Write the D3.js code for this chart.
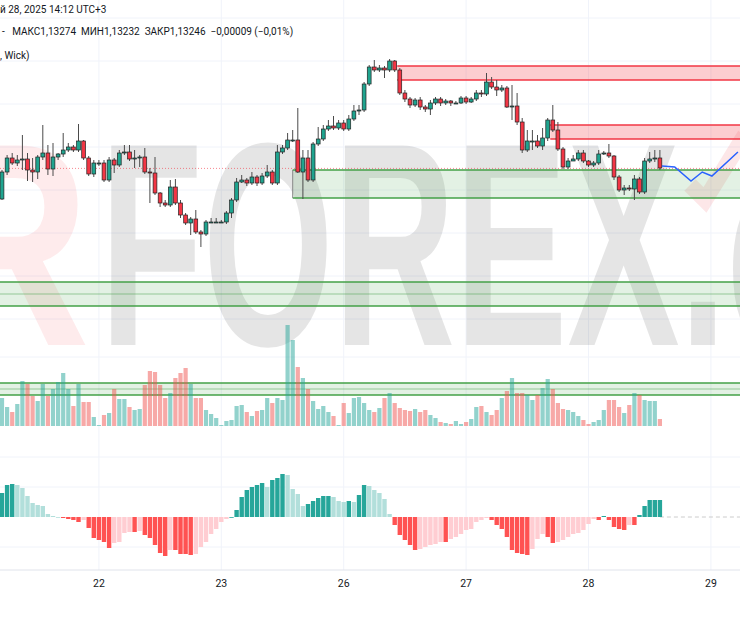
<!DOCTYPE html>
<html><head><meta charset="utf-8">
<script src="https://cdn.jsdelivr.net/npm/d3@7/dist/d3.min.js"></script>
<style>body{margin:0;background:#fff}svg{display:block}</style></head>
<body><svg id="c" width="740" height="620"></svg>
<script>
// hourly EURUSD candles, open = previous close
const firstOpen = 1.1294;
const closes = [1.1321,1.1335,1.1330,1.1333,1.1334,1.1323,1.1321,1.1336,1.1340,1.1324,1.1336,1.1339,1.1343,1.1346,1.1343,1.1352,1.1335,1.1319,1.1330,1.1330,1.1313,1.1333,1.1328,1.1340,1.1341,1.1334,1.1335,1.1336,1.1321,1.1320,1.1300,1.1290,1.1288,1.1306,1.1290,1.1278,1.1270,1.1274,1.1261,1.1259,1.1271,1.1271,1.1271,1.1271,1.1280,1.1293,1.1311,1.1313,1.1310,1.1316,1.1310,1.1317,1.1321,1.1310,1.1341,1.1345,1.1353,1.1353,1.1321,1.1335,1.1313,1.1349,1.1354,1.1364,1.1367,1.1365,1.1370,1.1364,1.1374,1.1382,1.1383,1.1409,1.1426,1.1423,1.1425,1.1423,1.1432,1.1423,1.1400,1.1394,1.1388,1.1393,1.1386,1.1384,1.1390,1.1394,1.1390,1.1392,1.1390,1.1390,1.1395,1.1391,1.1394,1.1400,1.1399,1.1411,1.1406,1.1403,1.1405,1.1386,1.1387,1.1371,1.1343,1.1352,1.1352,1.1347,1.1355,1.1373,1.1363,1.1344,1.1326,1.1332,1.1334,1.1340,1.1332,1.1328,1.1330,1.1339,1.1340,1.1337,1.1316,1.1303,1.1305,1.1304,1.1314,1.1301,1.1332,1.1334,1.1335,1.1325];
const highs = [1.1323,1.1338,1.1340,1.1338,1.1358,1.1340,1.1335,1.1338,1.1368,1.1348,1.1350,1.1340,1.1360,1.1350,1.1348,1.1369,1.1353,1.1337,1.1333,1.1333,1.1333,1.1336,1.1335,1.1343,1.1348,1.1348,1.1343,1.1338,1.1345,1.1325,1.1336,1.1301,1.1293,1.1313,1.1314,1.1293,1.1280,1.1276,1.1283,1.1263,1.1273,1.1275,1.1275,1.1273,1.1282,1.1295,1.1315,1.1318,1.1315,1.1321,1.1318,1.1320,1.1328,1.1323,1.1348,1.1348,1.1360,1.1363,1.1385,1.1343,1.1343,1.1351,1.1366,1.1368,1.1373,1.1377,1.1373,1.1373,1.1378,1.1388,1.1388,1.1411,1.1428,1.1433,1.1428,1.1427,1.1434,1.1433,1.1425,1.1403,1.1396,1.1395,1.1396,1.1388,1.1393,1.1396,1.1396,1.1394,1.1393,1.1392,1.1397,1.1397,1.1396,1.1403,1.1403,1.1420,1.1416,1.1413,1.1408,1.1407,1.1408,1.1400,1.1375,1.1363,1.1363,1.1358,1.1365,1.1375,1.1388,1.1371,1.1346,1.1335,1.1338,1.1343,1.1343,1.1333,1.1332,1.1343,1.1342,1.1349,1.1338,1.1318,1.1308,1.1308,1.1318,1.1316,1.1335,1.1341,1.1343,1.1343];
const lows = [1.1293,1.1318,1.1328,1.1327,1.1323,1.1312,1.1311,1.1314,1.1333,1.1318,1.1317,1.1333,1.1336,1.1341,1.1341,1.1341,1.1333,1.1317,1.1316,1.1327,1.1311,1.1311,1.1320,1.1326,1.1338,1.1332,1.1325,1.1326,1.1319,1.1290,1.1298,1.1286,1.1286,1.1286,1.1288,1.1275,1.1268,1.1258,1.1259,1.1246,1.1257,1.1270,1.1270,1.1270,1.1269,1.1275,1.1291,1.1310,1.1307,1.1308,1.1307,1.1308,1.1315,1.1308,1.1308,1.1339,1.1343,1.1351,1.1320,1.1294,1.1311,1.1311,1.1347,1.1352,1.1362,1.1363,1.1363,1.1362,1.1362,1.1372,1.1378,1.1381,1.1407,1.1421,1.1421,1.1415,1.1421,1.1421,1.1398,1.1391,1.1385,1.1386,1.1383,1.1381,1.1378,1.1388,1.1387,1.1388,1.1387,1.1389,1.1389,1.1389,1.1390,1.1392,1.1396,1.1397,1.1404,1.1397,1.1401,1.1385,1.1373,1.1368,1.1340,1.1341,1.1343,1.1345,1.1343,1.1352,1.1361,1.1342,1.1324,1.1324,1.1332,1.1332,1.1330,1.1326,1.1326,1.1328,1.1338,1.1335,1.1313,1.1301,1.1298,1.1302,1.1293,1.1299,1.1299,1.1330,1.1331,1.1323];
const volumes = [28,19,14,22,45,42,30,25,42,30,37,44,53,37,20,42,24,24,9,1,11,13,37,27,27,19,16,17,41,55,54,41,28,33,48,53,58,42,28,28,16,12,8,1,5,6,20,21,14,10,15,16,28,23,28,26,101,86,59,48,37,25,17,20,14,10,1,23,13,28,29,23,16,14,18,28,33,23,18,16,15,17,14,16,11,8,4,3,2,5,2,4,7,19,20,14,11,16,28,35,48,33,33,31,26,31,38,47,37,23,17,16,14,10,6,2,4,6,16,26,26,19,13,21,33,31,26,25,25,7];
const hist = [24,32,33,32,29,21,14,12,11,3,1,0,-1,-2,-3,-5,-3,-11,-21,-23,-25,-31,-26,-25,-16,-15,-15,-14,-18,-21,-28,-36,-39,-33,-33,-37,-37,-38,-37,-30,-25,-17,-12,-5,-2,0,7,20,27,30,32,34,30,37,39,43,42,28,23,11,13,16,19,21,21,20,16,15,16,15,22,32,31,27,24,18,3,-8,-18,-23,-28,-33,-32,-30,-28,-27,-25,-25,-22,-20,-17,-13,-12,-5,-3,-1,-3,-8,-12,-20,-33,-36,-37,-38,-32,-22,-17,-20,-26,-25,-23,-20,-17,-16,-13,-7,-2,-3,1,-3,-10,-12,-13,-8,-8,2,11,17,17,17];
const forecastIdx = [129.4,131.9,135.1,137.3,139.2,144.3];
const forecastPx = [1.1327,1.1326,1.1312,1.1321,1.1317,1.1341];
const dayLabels = ["22","23","26","27","28","29"];
const dayIdx = [19,43,67,91,115,139];
const zoneTop = [1.1427,1.1368,1.1323,1.1211,1.1110];
const zoneBot = [1.1413,1.1354,1.1295,1.1187,1.1098];
const zoneFrom = [77.5,107.5,57,-5,-5];
const zoneKind = ["r","r","g","g","g"];
const lastPrice = 1.13246;

const svg = d3.select("#c");
const x = d3.scaleLinear().domain([0,139]).range([2,710.9]);
const y = d3.scaleLinear().domain([1.1433,1.1248]).range([60,245]);
const yv = d3.scaleLinear().domain([0,101]).range([426,325]);
const yh = d3.scaleLinear().domain([-40,40]).range([557,477]);
const W = 740;

// grid
const g = svg.append("g").attr("stroke","#f0f3fa").attr("stroke-width",1);
dayIdx.forEach(d=>g.append("line").attr("x1",x(d)).attr("x2",x(d)).attr("y1",0).attr("y2",570));
[18,61,104,147,190,233,276,319,357,457,487,547].forEach(v=>g.append("line").attr("x1",0).attr("x2",W).attr("y1",v).attr("y2",v));

// watermark
svg.append("text").attr("x",-75).attr("y",345).attr("font-family","Liberation Sans, Arial").attr("font-weight","bold").attr("font-size",290).attr("textLength",165).attr("lengthAdjust","spacingAndGlyphs").attr("fill","#f23645").attr("fill-opacity",0.1).text("R");
svg.append("text").attr("x",100).attr("y",345).attr("font-family","Liberation Sans, Arial").attr("font-weight","bold").attr("font-size",290).attr("textLength",720).attr("lengthAdjust","spacingAndGlyphs").attr("fill","#000").attr("fill-opacity",0.1).text("FOREX.c");
svg.append("path").attr("d","M690,185 L705,200 L745,135").attr("fill","none").attr("stroke","#f23645").attr("stroke-opacity",0.12).attr("stroke-width",16);

// zones
zoneTop.forEach((t,i)=>{
  const col = zoneKind[i]==="r" ? "#f23645" : "#43a047";
  const x0 = x(zoneFrom[i]);
  svg.append("rect").attr("x",x0).attr("y",y(t)).attr("width",W-x0).attr("height",y(zoneBot[i])-y(t))
    .attr("fill",col).attr("fill-opacity",zoneKind[i]==="r"?0.25:0.15);
  [t,zoneBot[i]].forEach(v=>svg.append("line").attr("x1",x0).attr("x2",W).attr("y1",y(v)).attr("y2",y(v)).attr("stroke",col).attr("stroke-width",1.5));
  if(i===2) svg.append("line").attr("x1",x0).attr("x2",x0).attr("y1",y(t)).attr("y2",y(zoneBot[i])).attr("stroke","#888").attr("stroke-width",1);
  if(i>=3){const m=(t+zoneBot[i])/2; svg.append("line").attr("x1",0).attr("x2",W).attr("y1",y(m)).attr("y2",y(m)).attr("stroke",col).attr("stroke-opacity",0.5).attr("stroke-width",1);}
});

// volume
const opens = closes.map((c,i)=> i===0 ? firstOpen : closes[i-1]);
svg.append("g").selectAll("rect").data(volumes).join("rect")
  .attr("x",(d,i)=>x(i)-2.1).attr("width",4.2).attr("y",d=>yv(d)).attr("height",d=>yv(0)-yv(d))
  .attr("fill",(d,i)=>closes[i]>=opens[i]?"#26a69a":"#ef5350").attr("fill-opacity",0.5);

// current price line
svg.append("line").attr("x1",0).attr("x2",W).attr("y1",y(lastPrice)).attr("y2",y(lastPrice)).attr("stroke","#f23645").attr("stroke-opacity",0.6).attr("stroke-dasharray","1,2");

// candles
const cg = svg.append("g");
closes.forEach((c,i)=>{
  const o=opens[i], up=c>=o;
  cg.append("line").attr("x1",x(i)).attr("x2",x(i)).attr("y1",y(highs[i])).attr("y2",y(lows[i])).attr("stroke","#4a4a4a").attr("stroke-width",1);
  const t=y(Math.max(o,c)), b=y(Math.min(o,c));
  cg.append("rect").attr("x",x(i)-1.9).attr("width",3.8).attr("y",t).attr("height",Math.max(1,b-t))
    .attr("fill",up?"#1fa48f":"#f23645").attr("stroke","#222").attr("stroke-width",0.7);
});

// forecast
svg.append("path").datum(forecastIdx.map((d,i)=>[d,forecastPx[i]]))
  .attr("d",d3.line().x(d=>x(d[0])).y(d=>y(d[1]))).attr("fill","none").attr("stroke","#2962ff").attr("stroke-width",1.5);

// histogram
svg.append("line").attr("x1",x(129)).attr("x2",W).attr("y1",yh(0)).attr("y2",yh(0)).attr("stroke","#ccc").attr("stroke-dasharray","4,3");
svg.append("g").selectAll("rect").data(hist).join("rect")
  .attr("x",(d,i)=>x(i)-2.2).attr("width",4.4)
  .attr("y",d=>Math.min(yh(d),yh(0))).attr("height",d=>Math.max(0.8,Math.abs(yh(d)-yh(0))))
  .attr("fill",(d,i)=>{const p=i?hist[i-1]:d; if(d>=0) return d>=p?"#26a69a":"#b2dfdb"; return d<=p?"#ff5252":"#ffcdd2";});

// axis labels
svg.append("line").attr("x1",0).attr("x2",W).attr("y1",570).attr("y2",570).attr("stroke","#e0e3eb");
svg.append("g").selectAll("text").data(dayLabels).join("text")
  .attr("x",(d,i)=>x(dayIdx[i])).attr("y",587).attr("text-anchor","middle")
  .attr("font-family","Roboto, sans-serif").attr("font-size",10.5).attr("fill","#131722").text(d=>d);

// header
const ht = svg.append("g").attr("font-family","Roboto, sans-serif").attr("font-size",10).attr("fill","#131722");
ht.append("text").attr("x",0).attr("y",13).text("й 28, 2025 14:12 UTC+3");
ht.append("text").attr("x",2).attr("y",35).attr("xml:space","preserve").text("-   МАКС1,13274  МИН1,13232  ЗАКР1,13246  −0,00009 (−0,01%)");
ht.append("text").attr("x",0).attr("y",59).text(", Wick)");
</script></body></html>
